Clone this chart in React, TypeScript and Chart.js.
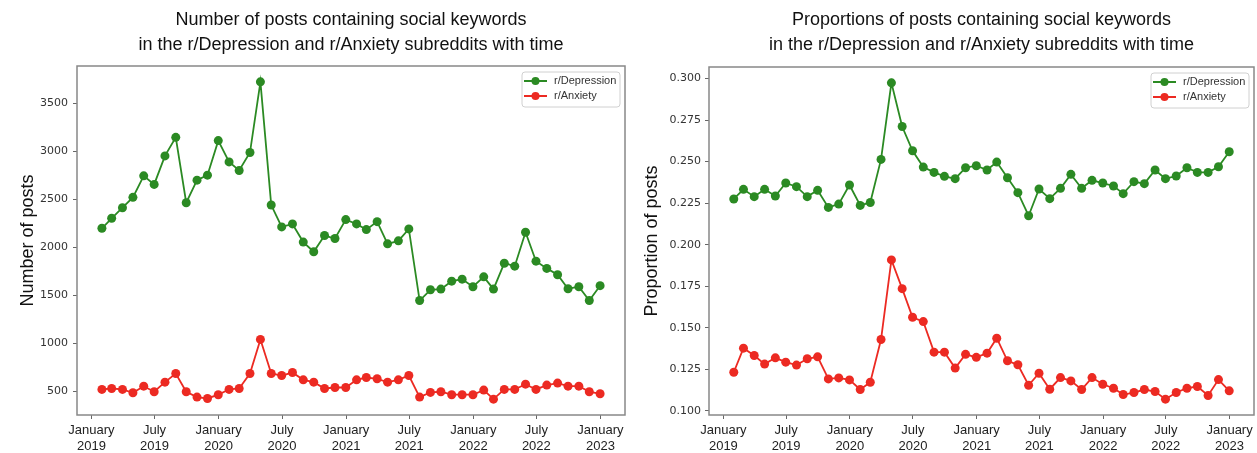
import React, { useEffect, useRef } from 'react';
import { Chart, registerables } from 'chart.js';

Chart.register(...registerables);

// ---- data ----
const pointDates = [
  '2019-01-31', '2019-02-28', '2019-03-31', '2019-04-30', '2019-05-31', '2019-06-30',
  '2019-07-31', '2019-08-31', '2019-09-30', '2019-10-31', '2019-11-30', '2019-12-31',
  '2020-01-31', '2020-02-29', '2020-03-31', '2020-04-30', '2020-05-31', '2020-06-30',
  '2020-07-31', '2020-08-31', '2020-09-30', '2020-10-31', '2020-11-30', '2020-12-31',
  '2021-01-31', '2021-02-28', '2021-03-31', '2021-04-30', '2021-05-31', '2021-06-30',
  '2021-07-31', '2021-08-31', '2021-09-30', '2021-10-31', '2021-11-30', '2021-12-31',
  '2022-01-31', '2022-02-28', '2022-03-31', '2022-04-30', '2022-05-31', '2022-06-30',
  '2022-07-31', '2022-08-31', '2022-09-30', '2022-10-31', '2022-11-30', '2022-12-31',
];

const depressionCounts = [
  2200, 2304, 2414, 2522, 2746, 2657, 2954, 3147, 2466, 2701,
  2753, 3113, 2891, 2802, 2989, 3725, 2442, 2214, 2245, 2056,
  1955, 2124, 2093, 2290, 2245, 2186, 2269, 2038, 2069, 2193,
  1447, 1559, 1566, 1649, 1670, 1591, 1694, 1566, 1836, 1805,
  2159, 1857, 1782, 1716, 1570, 1591, 1448, 1602,
];

const anxietyCounts = [
  521, 531, 521, 486, 555, 497, 597, 687, 497, 441,
  427, 466, 521, 531, 687, 1042, 687, 666, 697, 621,
  597, 531, 541, 541, 621, 645, 632, 597, 621, 666,
  441, 490, 497, 466, 466, 466, 514, 420, 521, 521,
  576, 521, 566, 587, 555, 555, 497, 476,
];

const depressionProps = [
  0.2275, 0.2333, 0.2289, 0.2333, 0.2293, 0.2371, 0.2349, 0.2289, 0.2327, 0.2224,
  0.2244, 0.2359, 0.2236, 0.2254, 0.2513, 0.2974, 0.2711, 0.2565, 0.2467, 0.2435,
  0.2411, 0.2397, 0.2463, 0.2475, 0.2449, 0.2497, 0.2403, 0.2313, 0.2174, 0.2335,
  0.2277, 0.2339, 0.2423, 0.2339, 0.2387, 0.2371, 0.2353, 0.2307, 0.2379, 0.2367,
  0.2449, 0.2397, 0.2413, 0.2463, 0.2435, 0.2435, 0.2469, 0.2559,
];

const anxietyProps = [
  0.1232, 0.1377, 0.1333, 0.1281, 0.1319, 0.1293, 0.1275, 0.1313, 0.1325, 0.1192,
  0.1198, 0.1186, 0.1128, 0.1172, 0.1429, 0.1908, 0.1735, 0.1563, 0.1537, 0.1353,
  0.1353, 0.1257, 0.1340, 0.1322, 0.1347, 0.1437, 0.1301, 0.1277, 0.1154, 0.1226,
  0.1130, 0.1200, 0.1180, 0.1128, 0.1200, 0.1160, 0.1136, 0.1098, 0.1110, 0.1128,
  0.1116, 0.1070, 0.1110, 0.1136, 0.1146, 0.1092, 0.1188, 0.1120,
];

const xTickDates = [
  '2019-01-01', '2019-07-01', '2020-01-01', '2020-07-01', '2021-01-01',
  '2021-07-01', '2022-01-01', '2022-07-01', '2023-01-01',
];
const xTickLabels = [
  ['January', '2019'], ['July', '2019'], ['January', '2020'], ['July', '2020'],
  ['January', '2021'], ['July', '2021'], ['January', '2022'], ['July', '2022'],
  ['January', '2023'],
];

const countTicks = [500, 1000, 1500, 2000, 2500, 3000, 3500];
const propTicks = [0.1, 0.125, 0.15, 0.175, 0.2, 0.225, 0.25, 0.275, 0.3];

const seriesNames = ['r/Depression', 'r/Anxiety'];
const seriesColors = ['#2b8a23', '#ec2a22'];

// ---- helpers ----
function dayNum(s: string): number {
  const [y, m, d] = s.split('-').map(Number);
  return (Date.UTC(y, m - 1, d) - Date.UTC(2019, 0, 1)) / 86400000;
}

const xDays = pointDates.map(dayNum);
const xTickDays = xTickDates.map(dayNum);
const xSpan = xDays[xDays.length - 1] - xDays[0];
const xMin = xDays[0] - 0.05 * xSpan;
const xMax = xDays[xDays.length - 1] + 0.05 * xSpan;

function yLimits(a: number[], b: number[]) {
  const all = a.concat(b);
  const lo = Math.min(...all);
  const hi = Math.max(...all);
  const m = 0.05 * (hi - lo);
  return [lo - m, hi + m];
}

type Spec = {
  title: string[];
  yTitle: string;
  yTitleX: number;
  values: number[][];
  yTicks: number[];
  yFmt: (v: number) => string;
  yWidth: number;
  padTop: number;
  padRight: number;
  yTickPad: number;
};

function makeDecor(spec: Spec) {
  return {
    id: 'decor',
    afterDraw(chart: any) {
      const { ctx, chartArea: a } = chart;
      ctx.save();
      // frame
      ctx.strokeStyle = '#888888';
      ctx.lineWidth = 1.5;
      ctx.strokeRect(a.left, a.top, a.right - a.left, a.bottom - a.top);

      // title
      const cx = (a.left + a.right) / 2;
      ctx.fillStyle = '#111111';
      ctx.font = '18px "Liberation Sans", Arial, sans-serif';
      ctx.textAlign = 'center';
      ctx.textBaseline = 'middle';
      ctx.fillText(spec.title[0], cx, 20);
      ctx.fillText(spec.title[1], cx, 45);

      // y title
      ctx.save();
      ctx.translate(spec.yTitleX, (a.top + a.bottom) / 2);
      ctx.rotate(-Math.PI / 2);
      ctx.font = '18px "Liberation Sans", Arial, sans-serif';
      ctx.fillText(spec.yTitle, 0, 0);
      ctx.restore();

      // legend
      const bw = 98;
      const bh = 35;
      const bx = a.right - 5 - bw;
      const by = a.top + 6;
      ctx.beginPath();
      const r = 3;
      ctx.moveTo(bx + r, by);
      ctx.lineTo(bx + bw - r, by);
      ctx.quadraticCurveTo(bx + bw, by, bx + bw, by + r);
      ctx.lineTo(bx + bw, by + bh - r);
      ctx.quadraticCurveTo(bx + bw, by + bh, bx + bw - r, by + bh);
      ctx.lineTo(bx + r, by + bh);
      ctx.quadraticCurveTo(bx, by + bh, bx, by + bh - r);
      ctx.lineTo(bx, by + r);
      ctx.quadraticCurveTo(bx, by, bx + r, by);
      ctx.closePath();
      ctx.fillStyle = 'rgba(255,255,255,0.85)';
      ctx.fill();
      ctx.strokeStyle = '#d0d0d0';
      ctx.lineWidth = 1;
      ctx.stroke();

      chart.data.datasets.forEach((ds: any, i: number) => {
        const ry = by + 9 + i * 15;
        ctx.strokeStyle = ds.borderColor;
        ctx.lineWidth = 2;
        ctx.beginPath();
        ctx.moveTo(bx + 2, ry);
        ctx.lineTo(bx + 25, ry);
        ctx.stroke();
        ctx.fillStyle = ds.backgroundColor;
        ctx.beginPath();
        ctx.arc(bx + 13.5, ry, 4, 0, Math.PI * 2);
        ctx.fill();
        ctx.fillStyle = '#333333';
        ctx.font = '11px "Liberation Sans", Arial, sans-serif';
        ctx.textAlign = 'left';
        ctx.textBaseline = 'middle';
        ctx.fillText(ds.label, bx + 32, ry);
      });
      ctx.restore();
    },
  };
}

function buildConfig(spec: Spec): any {
  const [yMin, yMax] = yLimits(spec.values[0], spec.values[1]);
  return {
    type: 'line',
    data: {
      datasets: spec.values.map((vals, i) => ({
        label: seriesNames[i],
        data: vals.map((v, j) => ({ x: xDays[j], y: v })),
        borderColor: seriesColors[i],
        backgroundColor: seriesColors[i],
        pointBackgroundColor: seriesColors[i],
        pointBorderWidth: 0,
        pointRadius: 4.5,
        borderWidth: 1.8,
        tension: 0,
        clip: false,
      })),
    },
    options: {
      animation: false,
      responsive: false,
      devicePixelRatio: 1,
      events: [],
      layout: {
        autoPadding: false,
        padding: { top: spec.padTop, right: spec.padRight, left: 0, bottom: 0 },
      },
      plugins: {
        legend: { display: false },
        title: { display: false },
        tooltip: { enabled: false },
      },
      scales: {
        x: {
          type: 'linear',
          min: xMin,
          max: xMax,
          afterBuildTicks: (scale: any) => {
            scale.ticks = xTickDays.map((v) => ({ value: v }));
          },
          afterFit: (scale: any) => {
            scale.height = 38;
          },
          grid: {
            display: true,
            drawOnChartArea: false,
            drawTicks: true,
            tickLength: 4,
            color: '#666666',
          },
          border: { display: false },
          ticks: {
            autoSkip: false,
            maxRotation: 0,
            minRotation: 0,
            padding: 4,
            color: '#222222',
            font: { family: '"Liberation Sans", Arial, sans-serif', size: 13, lineHeight: 1.2 },
            callback: (v: number) => {
              const k = xTickDays.indexOf(v);
              return k >= 0 ? xTickLabels[k] : '';
            },
          },
        },
        y: {
          type: 'linear',
          min: yMin,
          max: yMax,
          afterBuildTicks: (scale: any) => {
            scale.ticks = spec.yTicks.map((v) => ({ value: v }));
          },
          afterFit: (scale: any) => {
            scale.width = spec.yWidth;
          },
          grid: {
            display: true,
            drawOnChartArea: false,
            drawTicks: true,
            tickLength: 4,
            color: '#666666',
          },
          border: { display: false },
          ticks: {
            padding: spec.yTickPad,
            color: '#333333',
            font: { family: '"DejaVu Sans", sans-serif', size: 11 },
            callback: (v: number) => spec.yFmt(v),
          },
        },
      },
    },
    plugins: [makeDecor(spec)],
  };
}

const leftSpec: Spec = {
  title: [
    'Number of posts containing social keywords',
    'in the r/Depression and r/Anxiety subreddits with time',
  ],
  yTitle: 'Number of posts',
  yTitleX: 28,
  values: [depressionCounts, anxietyCounts],
  yTicks: countTicks,
  yFmt: (v) => String(Math.round(v)),
  yWidth: 77,
  padTop: 66,
  padRight: 5,
  yTickPad: 5,
};

const rightSpec: Spec = {
  title: [
    'Proportions of posts containing social keywords',
    'in the r/Depression and r/Anxiety subreddits with time',
  ],
  yTitle: 'Proportion of posts',
  yTitleX: 22,
  values: [depressionProps, anxietyProps],
  yTicks: propTicks,
  yFmt: (v) => v.toFixed(3),
  yWidth: 79,
  padTop: 67,
  padRight: 3,
  yTickPad: 4,
};

function ChartCanvas({ spec, left, width }: { spec: Spec; left: number; width: number }) {
  const ref = useRef<HTMLCanvasElement | null>(null);
  useEffect(() => {
    if (!ref.current) return;
    const chart = new Chart(ref.current, buildConfig(spec));
    return () => chart.destroy();
  }, [spec]);
  return (
    <canvas
      ref={ref}
      width={width}
      height={453}
      style={{ position: 'absolute', left, top: 0, width, height: 453, display: 'block' }}
    />
  );
}

export default function App() {
  return (
    <div
      style={{
        position: 'absolute',
        left: 0,
        top: 0,
        width: 1257,
        height: 453,
        background: '#ffffff',
        overflow: 'hidden',
      }}
    >
      <ChartCanvas spec={leftSpec} left={0} width={630} />
      <ChartCanvas spec={rightSpec} left={630} width={627} />
    </div>
  );
}
